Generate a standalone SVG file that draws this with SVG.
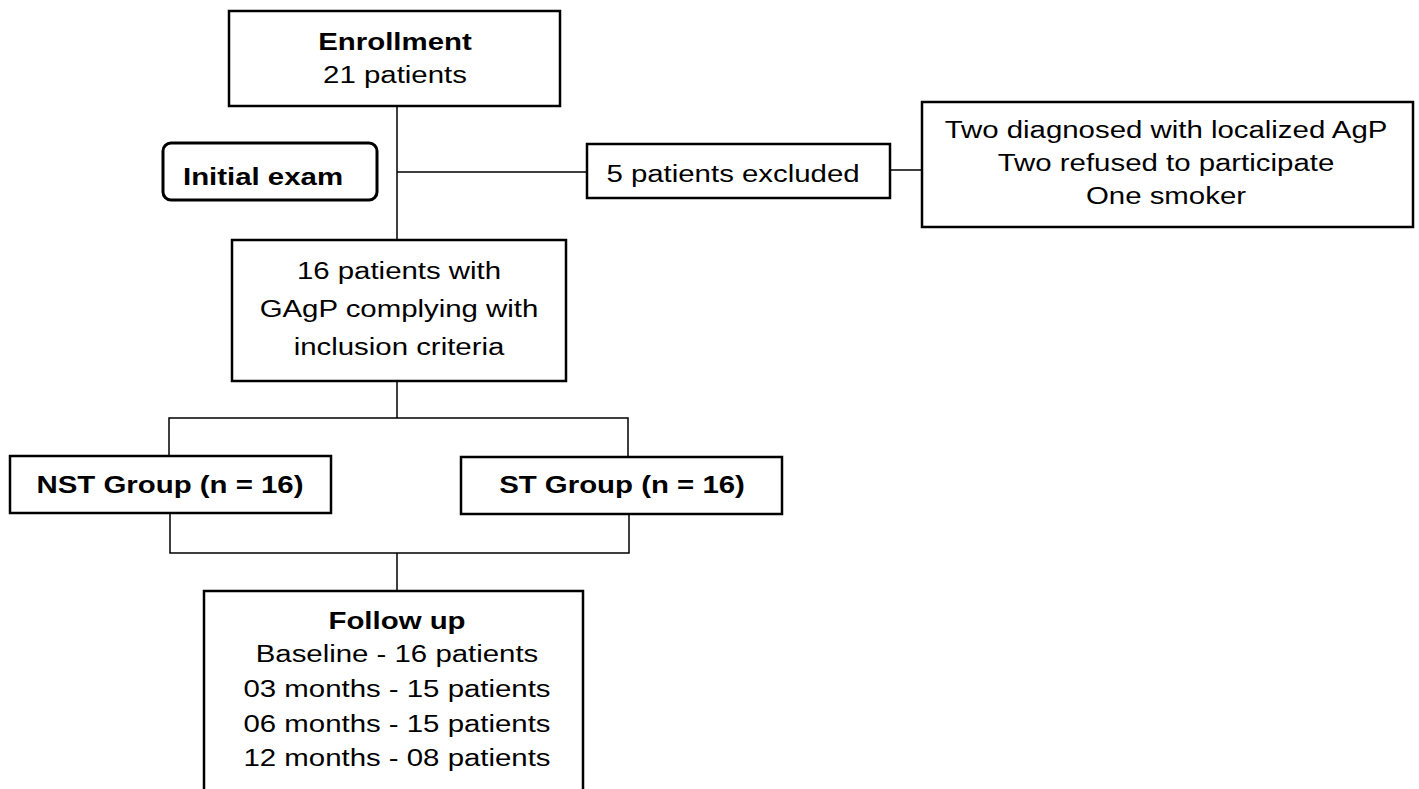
<svg xmlns="http://www.w3.org/2000/svg" width="1419" height="789" viewBox="0 0 1419 789">
<style>
.box{fill:#fff;stroke:#000;stroke-width:2.5}
.ln{fill:none;stroke:#000;stroke-width:1.5}
text{font-family:"Liberation Sans",Arial,sans-serif;font-size:24.5px;fill:#000;text-anchor:middle}
.b{font-weight:bold}
</style>
<rect width="1419" height="789" fill="#fff"/>
<g id="connectors">
<path class="ln" d="M397 106V240M397 172H587M890 170H922M397 381V418M169 456V418H628V456M170 513V553H629V514M397 553V591"/>
</g>
<g id="enrollment">
<rect class="box" x="229" y="11" width="331" height="95"/>
<text class="b" transform="translate(395 50) scale(1.2 1)">Enrollment</text>
<text transform="translate(395 83) scale(1.2 1)">21 patients</text>
</g>
<g id="initial-exam">
<rect class="box" x="163" y="143" width="214" height="57" rx="8" style="stroke-width:3"/>
<text class="b" transform="translate(263 185) scale(1.2 1)">Initial exam</text>
</g>
<g id="excluded">
<rect class="box" x="587" y="144" width="303" height="54"/>
<text transform="translate(733 182) scale(1.2 1)">5 patients excluded</text>
</g>
<g id="reasons">
<rect class="box" x="922" y="102" width="491" height="125"/>
<text transform="translate(1166 138) scale(1.2 1)">Two diagnosed with localized AgP</text>
<text transform="translate(1166 171) scale(1.2 1)">Two refused to participate</text>
<text transform="translate(1166 204) scale(1.2 1)">One smoker</text>
</g>
<g id="included">
<rect class="box" x="232" y="240" width="334" height="141"/>
<text transform="translate(399 279) scale(1.2 1)">16 patients with</text>
<text transform="translate(399 317) scale(1.2 1)">GAgP complying with</text>
<text transform="translate(399 355) scale(1.2 1)">inclusion criteria</text>
</g>
<g id="nst">
<rect class="box" x="10" y="456" width="321" height="57"/>
<text class="b" transform="translate(170 493) scale(1.2 1)">NST Group (n = 16)</text>
</g>
<g id="st">
<rect class="box" x="461" y="457" width="321" height="57"/>
<text class="b" transform="translate(622 493) scale(1.2 1)">ST Group (n = 16)</text>
</g>
<g id="followup">
<rect class="box" x="204" y="591" width="379" height="210"/>
<text class="b" transform="translate(397 629) scale(1.2 1)">Follow up</text>
<text transform="translate(397 662) scale(1.2 1)">Baseline - 16 patients</text>
<text transform="translate(397 697) scale(1.2 1)">03 months - 15 patients</text>
<text transform="translate(397 732) scale(1.2 1)">06 months - 15 patients</text>
<text transform="translate(397 766) scale(1.2 1)">12 months - 08 patients</text>
</g>
</svg>
